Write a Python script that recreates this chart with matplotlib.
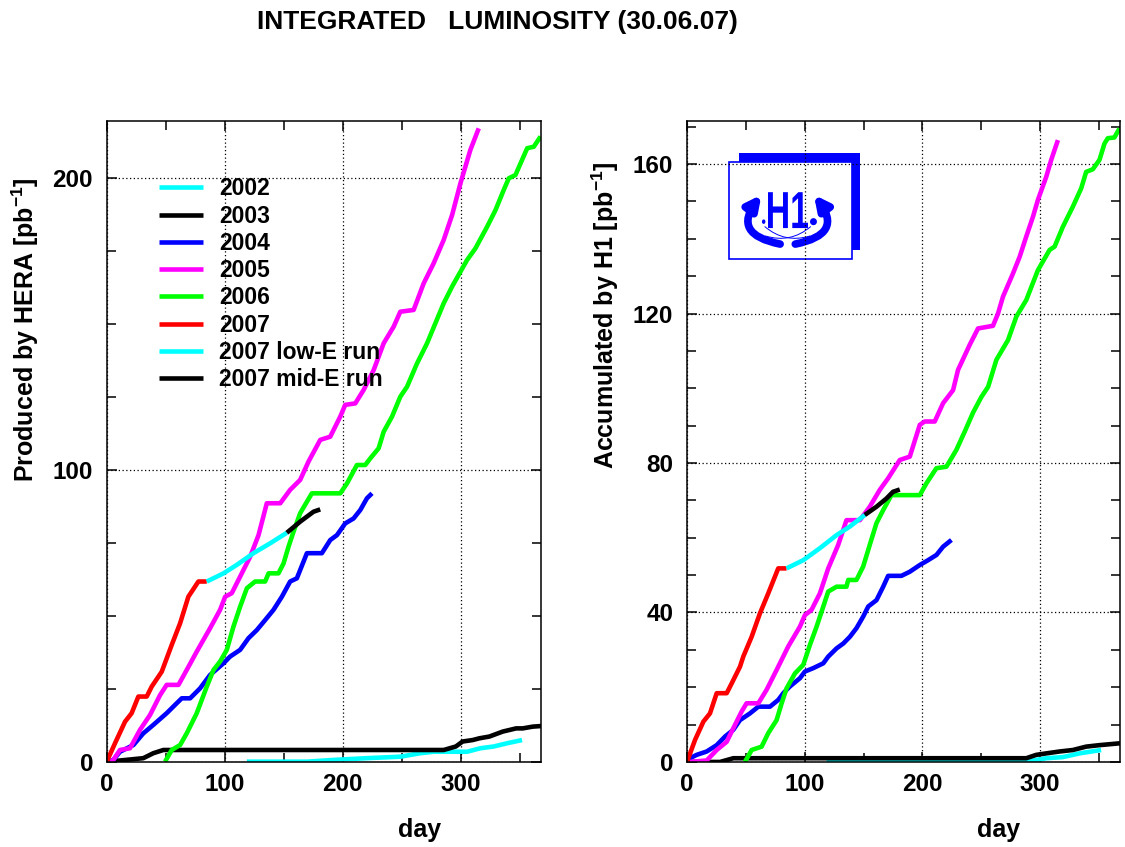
import matplotlib
matplotlib.use('Agg')
import matplotlib.pyplot as plt
from matplotlib.patches import Rectangle, PathPatch, FancyArrowPatch, Ellipse
from matplotlib.textpath import TextPath
from matplotlib.font_manager import FontProperties
from matplotlib.transforms import Affine2D
from matplotlib.ticker import MultipleLocator

plt.rcParams['font.family'] = ['Liberation Sans', 'DejaVu Sans']
plt.rcParams['font.weight'] = 'bold'
plt.rcParams['axes.labelweight'] = 'bold'
plt.rcParams['mathtext.fontset'] = 'custom'
plt.rcParams['mathtext.rm'] = 'Liberation Sans:bold'
plt.rcParams['mathtext.bf'] = 'Liberation Sans:bold'
plt.rcParams['mathtext.default'] = 'bf'

# ---------------- data: left panel, produced by HERA [pb^-1] vs day ----------------
hera_2002_day = [118.6, 169.5, 192.2, 220.4, 248.7, 265.7, 277.0, 305.3, 316.6, 327.9, 339.2, 351.9]
hera_2002_lumi = [0.1, 0.1, 0.7, 1.3, 1.8, 3.0, 3.5, 3.5, 4.7, 5.3, 6.4, 7.5]

hera_2003_day = [1.1, 30.8, 39.3, 47.8, 285.5, 295.8, 301.5, 310.0, 315.7, 324.2, 335.5, 346.9, 352.5, 361.0, 368.0]
hera_2003_lumi = [0.1, 1.3, 3.0, 4.1, 4.1, 5.3, 7.0, 7.5, 8.1, 8.7, 10.4, 11.5, 11.5, 12.1, 12.3]

hera_2004_day = [0, 5.4, 11.0, 22.4, 30.8, 39.3, 50.6, 59.1, 63.4, 70.5, 78.9, 87.4, 98.8, 104.4, 112.9, 120.0,
                 127.1, 134.1, 141.2, 148.3, 155.3, 161.0, 169.5, 182.2, 189.3, 195.0, 202.0, 209.1, 214.8, 220.4, 224.7]
hera_2004_lumi = [0, 0.7, 3.5, 5.8, 9.8, 12.7, 16.7, 20.1, 21.8, 21.8, 25.2, 29.8, 33.8, 36.1, 38.4, 42.4,
                  45.2, 48.6, 52.1, 56.6, 61.8, 62.9, 71.5, 71.5, 76.0, 77.7, 81.7, 83.4, 86.3, 90.3, 92.0]

hera_2005_day = [3.0, 5.4, 11.0, 19.5, 28.0, 36.5, 45.0, 50.6, 60.6, 67.6, 76.1, 87.4, 95.9, 100.2, 105.8, 112.9,
                 121.4, 128.5, 135.5, 146.9, 155.3, 163.8, 170.9, 180.8, 189.3, 197.8, 202.0, 210.5, 217.6, 226.1,
                 234.6, 243.1, 248.7, 260.0, 268.5, 277.0, 285.5, 292.6, 299.7, 308.1, 315.2]
hera_2005_lumi = [0, 0.7, 4.1, 4.7, 11.0, 16.1, 22.9, 26.4, 26.4, 31.5, 37.8, 45.8, 52.1, 56.6, 57.8, 63.5,
                  70.3, 77.7, 88.6, 88.6, 93.2, 96.6, 102.9, 110.3, 111.4, 118.3, 122.3, 122.8, 127.4, 134.2,
                  143.4, 149.1, 154.2, 154.8, 163.9, 170.8, 178.8, 187.3, 198.2, 209.6, 217.0]

hera_2006_day = [49.2, 54.9, 62.0, 67.6, 76.1, 84.6, 90.3, 95.9, 101.6, 107.2, 112.9, 118.6, 125.6, 134.1, 137.0,
                 145.4, 149.7, 153.9, 158.2, 163.8, 173.7, 197.8, 203.5, 211.9, 219.0, 223.3, 230.3, 234.6, 241.7,
                 248.7, 254.4, 262.9, 271.4, 278.4, 285.5, 292.6, 299.7, 305.3, 312.4, 322.3, 329.4, 336.4, 340.7,
                 346.3, 356.3, 361.9, 367.6]
hera_2006_lumi = [0.1, 4.1, 5.8, 9.8, 16.7, 25.8, 31.5, 34.4, 38.4, 46.3, 53.2, 59.5, 61.8, 61.8, 64.6,
                  64.6, 68.0, 73.7, 78.9, 85.2, 92.0, 92.0, 95.4, 101.7, 101.7, 104.0, 107.4, 113.1, 118.3,
                  125.1, 128.5, 136.5, 143.4, 150.2, 157.1, 162.8, 167.9, 171.9, 175.9, 183.3, 189.0, 195.9, 199.9,
                  201.0, 210.2, 210.7, 214.2]

hera_2007_day = [0, 1.1, 6.8, 15.3, 20.9, 26.6, 33.7, 37.9, 46.4, 54.9, 62.0, 69.0, 77.5, 84.6]
hera_2007_lumi = [0, 1.3, 6.4, 13.8, 16.7, 22.4, 22.4, 25.8, 30.9, 40.1, 47.5, 56.6, 61.8, 61.8]

hera_lowe_day = [84.6, 98.8, 110.1, 124.2, 138.4, 152.5]
hera_lowe_lumi = [61.8, 64.6, 67.5, 71.5, 74.9, 78.5]

hera_mide_day = [152.5, 163.8, 175.1, 180.8]
hera_mide_lumi = [78.5, 82.3, 85.7, 86.5]

# ---------------- data: right panel, accumulated by H1 [pb^-1] vs day ----------------
h1_2002_day = [118.6, 277.0, 294.0, 305.3, 319.4, 333.6, 351.9]
h1_2002_lumi = [0, 0, 0.4, 1.0, 1.3, 2.3, 3.2]

h1_2003_day = [1.1, 28.0, 39.3, 47.8, 288.3, 296.8, 305.3, 316.6, 327.9, 339.2, 350.5, 368.0]
h1_2003_lumi = [0, 0, 1.0, 1.0, 1.0, 1.9, 2.3, 2.8, 3.2, 4.1, 4.5, 5.0]

h1_2004_day = [0, 2.5, 8.2, 16.7, 25.2, 32.3, 39.3, 45.0, 53.5, 60.6, 70.5, 77.5, 81.8, 87.4, 95.9, 100.2,
               107.2, 115.8, 120.0, 127.1, 132.8, 138.4, 144.0, 149.7, 154.0, 161.0, 166.7, 170.9, 182.2, 189.3,
               197.8, 204.9, 212.0, 217.6, 224.7]
h1_2004_lumi = [0, 1.0, 1.9, 2.8, 4.5, 6.8, 8.6, 11.2, 13.0, 14.8, 14.8, 16.6, 18.4, 20.2, 22.4, 24.2,
                25.1, 26.4, 28.2, 30.4, 31.7, 33.5, 35.8, 38.9, 41.6, 43.3, 46.9, 49.8, 49.8, 50.9,
                52.7, 54.0, 55.4, 57.6, 59.4]

h1_2005_day = [2.5, 16.7, 25.2, 33.7, 39.3, 46.4, 50.6, 60.6, 67.6, 76.1, 86.0, 95.9, 100.2, 105.8, 112.9,
               120.0, 128.5, 135.5, 146.9, 155.3, 163.8, 170.9, 180.8, 189.3, 197.8, 202.0, 210.5, 217.6, 226.1,
               230.3, 240.2, 247.3, 260.0, 264.3, 268.5, 277.0, 282.7, 288.3, 294.0, 298.2, 305.3, 309.5, 315.2]
h1_2005_lumi = [0, 0.4, 3.2, 5.4, 9.0, 13.5, 15.7, 15.7, 19.3, 24.6, 30.9, 36.2, 39.3, 40.7, 45.1,
                51.8, 58.1, 64.7, 64.7, 68.3, 72.8, 75.9, 80.8, 81.7, 90.2, 91.1, 91.1, 96.0, 99.5,
                104.9, 111.6, 116.0, 116.7, 120.0, 124.5, 130.7, 135.2, 140.6, 145.9, 150.4, 156.6, 161.1, 166.4]

h1_2006_day = [49.2, 54.9, 63.4, 69.0, 76.1, 80.4, 84.6, 91.7, 98.8, 104.4, 110.1, 115.8, 120.0, 127.1, 135.5,
               137.0, 144.0, 149.7, 155.3, 161.0, 166.7, 173.7, 197.8, 203.5, 211.9, 220.4, 228.9, 236.0, 243.1,
               250.2, 255.9, 262.9, 272.8, 279.9, 288.3, 298.2, 308.1, 312.4, 319.4, 327.9, 335.0, 339.2, 344.9,
               350.5, 354.8, 357.6, 363.2, 367.5]
h1_2006_lumi = [0, 3.2, 4.1, 7.7, 11.2, 15.7, 19.7, 23.7, 26.0, 31.3, 36.2, 41.6, 45.6, 46.9, 46.9,
                48.7, 48.7, 52.3, 58.1, 63.9, 67.4, 71.4, 71.4, 74.6, 78.6, 79.0, 83.5, 88.4, 93.5,
                97.7, 100.4, 107.6, 112.9, 119.2, 123.6, 131.6, 137.0, 137.9, 143.2, 148.6, 153.5, 157.9, 158.6,
                161.1, 165.5, 166.9, 167.1, 169.5]

h1_2007_day = [0, 1.1, 6.8, 13.9, 19.5, 25.2, 33.7, 37.9, 45.0, 47.8, 54.9, 62.0, 69.0, 77.5, 84.6]
h1_2007_lumi = [0, 1.0, 5.9, 10.8, 13.0, 18.4, 18.4, 21.0, 25.5, 28.2, 33.5, 39.8, 45.1, 51.8, 51.8]

h1_lowe_day = [84.6, 98.8, 112.9, 127.1, 138.4, 151.1]
h1_lowe_lumi = [51.8, 54.0, 57.2, 60.7, 63.0, 66.1]

h1_mide_day = [151.1, 161.0, 169.5, 175.1, 180.8]
h1_mide_lumi = [66.1, 68.3, 70.5, 72.3, 72.9]

labels = ['2002', '2003', '2004', '2005', '2006', '2007', '2007 low-E run', '2007 mid-E run']
colors = ['#00ffff', '#000000', '#0000ff', '#ff00ff', '#00ff00', '#ff0000', '#00ffff', '#000000']

left_series = [(hera_2002_day, hera_2002_lumi), (hera_2003_day, hera_2003_lumi),
               (hera_2004_day, hera_2004_lumi), (hera_2005_day, hera_2005_lumi),
               (hera_2006_day, hera_2006_lumi), (hera_2007_day, hera_2007_lumi),
               (hera_lowe_day, hera_lowe_lumi), (hera_mide_day, hera_mide_lumi)]
right_series = [(h1_2002_day, h1_2002_lumi), (h1_2003_day, h1_2003_lumi),
                (h1_2004_day, h1_2004_lumi), (h1_2005_day, h1_2005_lumi),
                (h1_2006_day, h1_2006_lumi), (h1_2007_day, h1_2007_lumi),
                (h1_lowe_day, h1_lowe_lumi), (h1_mide_day, h1_mide_lumi)]

fig = plt.figure(figsize=(11.25, 8.47), dpi=100)
ax1 = fig.add_axes([0.0951, 0.1004, 0.3858, 0.7567])
ax2 = fig.add_axes([0.6107, 0.1004, 0.3849, 0.7567])


def style_axes(ax, ymax, ymajor, yminor):
    ax.set_xlim(0, 368)
    ax.set_ylim(0, ymax)
    ax.xaxis.set_major_locator(MultipleLocator(100))
    ax.xaxis.set_minor_locator(MultipleLocator(50))
    ax.yaxis.set_major_locator(MultipleLocator(ymajor))
    ax.yaxis.set_minor_locator(MultipleLocator(yminor))
    ax.tick_params(which='both', direction='in', top=True, right=True, width=1.1, labelsize=17.5)
    ax.tick_params(which='major', length=7)
    ax.tick_params(which='minor', length=6.5)
    ax.tick_params(axis='x', pad=8)
    ax.tick_params(axis='y', pad=10)
    ax.grid(True, which='major', color='black', linestyle=(0, (1, 2)), linewidth=0.9)
    for s in ax.spines.values():
        s.set_linewidth(1.1)
    ax.set_xlabel('day', fontsize=18, fontweight='bold')
    ax.xaxis.set_label_coords(0.72, -0.088)


for ax, series in ((ax1, left_series), (ax2, right_series)):
    for (d, v), c, lab in zip(series, colors, labels):
        ax.plot(d, v, color=c, lw=3.3, label=lab, solid_capstyle='butt')

style_axes(ax1, 219.5, 100, 25)
style_axes(ax2, 171.5, 40, 10)

ax1.text(-0.189, 0.674, 'Produced by HERA [pb$^{-1}$]', transform=ax1.transAxes,
         rotation=90, ha='center', va='center', fontsize=18)
ax2.text(-0.189, 0.697, 'Accumulated by H1 [pb$^{-1}$]', transform=ax2.transAxes,
         rotation=90, ha='center', va='center', fontsize=18)

leg = ax1.legend(loc='upper left', bbox_to_anchor=(0.12, 0.912), frameon=False, fontsize=16.5,
                 handlelength=1.9, handletextpad=0.72, labelspacing=0.185, borderpad=0, borderaxespad=0)
for line in leg.get_lines():
    line.set_linewidth(3.3)

fig.text(0.442, 0.974, 'INTEGRATED   LUMINOSITY (30.06.07)', ha='center', va='center', fontsize=19)

# ---- H1 logo (decoration, axes fraction coords of right panel) ----
blue = '#0000ff'
ax2.add_patch(Rectangle((0.120, 0.799), 0.280, 0.151, transform=ax2.transAxes, fc=blue, ec='none', zorder=1))
ax2.add_patch(Rectangle((0.097, 0.785), 0.284, 0.151, transform=ax2.transAxes, fc='white', ec=blue, lw=1.2, zorder=1.05))
tp = TextPath((0, 0), 'H1', size=1, prop=FontProperties(family='Liberation Sans', weight='bold'))
ext = tp.get_extents()
tr = Affine2D().translate(-ext.x0, -ext.y0).scale(0.0924 / ext.width, 0.056 / ext.height).translate(0.187, 0.833)
ax2.add_patch(PathPatch(tr.transform_path(tp), transform=ax2.transAxes, fc=blue, ec='none', zorder=1.1))
ax2.add_patch(FancyArrowPatch((0.215, 0.808), (0.172, 0.885), transform=ax2.transAxes,
                              connectionstyle='arc3,rad=-0.8', arrowstyle='-|>', mutation_scale=20,
                              lw=5.5, color=blue, zorder=1.1, shrinkA=0, shrinkB=0))
ax2.add_patch(FancyArrowPatch((0.250, 0.808), (0.293, 0.885), transform=ax2.transAxes,
                              connectionstyle='arc3,rad=0.8', arrowstyle='-|>', mutation_scale=20,
                              lw=5.5, color=blue, zorder=1.1, shrinkA=0, shrinkB=0))
ax2.add_patch(FancyArrowPatch((0.175, 0.838), (0.290, 0.822), transform=ax2.transAxes,
                              connectionstyle='arc3,rad=0.3', arrowstyle='-', lw=0.7, color=blue, zorder=1.1))
ax2.add_patch(FancyArrowPatch((0.175, 0.822), (0.290, 0.838), transform=ax2.transAxes,
                              connectionstyle='arc3,rad=0.3', arrowstyle='-', lw=0.7, color=blue, zorder=1.1))
ax2.add_patch(Ellipse((0.177, 0.843), 0.008, 0.007, transform=ax2.transAxes, fc=blue, ec='none', zorder=1.1))
ax2.add_patch(Ellipse((0.292, 0.843), 0.016, 0.011, transform=ax2.transAxes, fc=blue, ec='none', zorder=1.1))

fig.savefig('out.png', dpi=100)
